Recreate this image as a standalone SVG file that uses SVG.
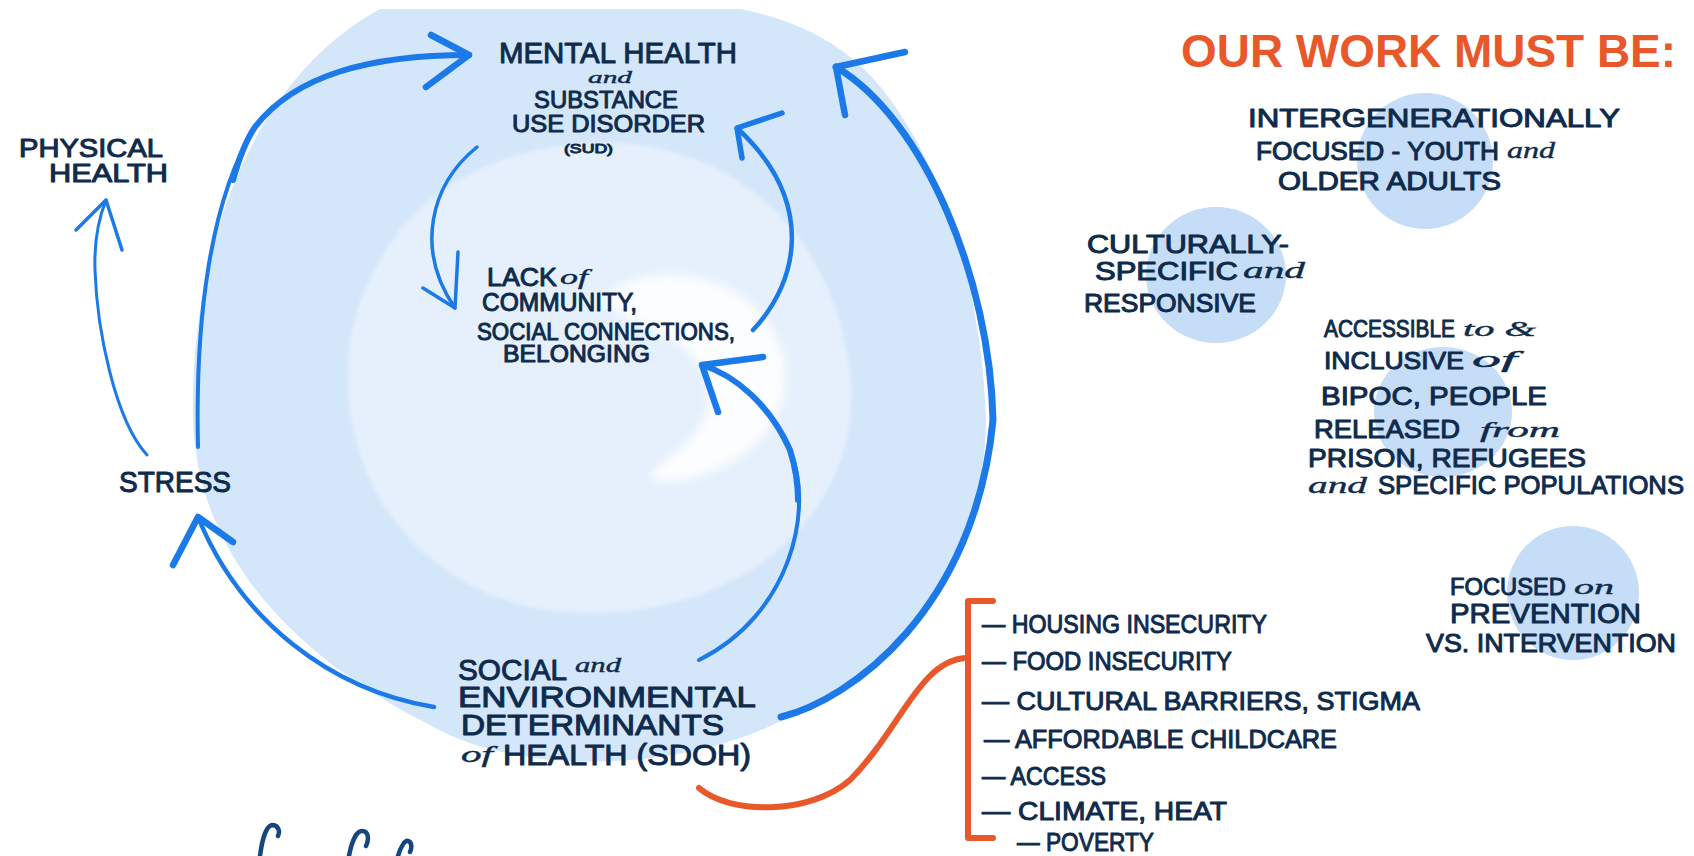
<svg xmlns="http://www.w3.org/2000/svg" width="1694" height="856" viewBox="0 0 1694 856">
<defs>
<style>
.t{font-family:"Liberation Sans","Noto Sans",sans-serif;fill:#0f2b4c;stroke:#0f2b4c;stroke-width:1;stroke-linejoin:round}
.s{font-family:"Liberation Serif","DejaVu Serif",serif;font-style:italic;fill:#0f2b4c;stroke:#0f2b4c;stroke-width:0.4}
.h{font-family:"Liberation Sans","Noto Sans",sans-serif;font-weight:bold;fill:#e8582a}
.blue{fill:none;stroke:#1b7ae8;stroke-linecap:round;stroke-linejoin:round}
.org{fill:none;stroke:#e8582a;stroke-width:6;stroke-linecap:round;stroke-linejoin:round}
.dot{fill:#c6ddf7}
</style>
<filter id="blur" x="-20%" y="-20%" width="140%" height="140%"><feGaussianBlur stdDeviation="4"/></filter>
<filter id="blur2" x="-10%" y="-10%" width="120%" height="120%"><feGaussianBlur stdDeviation="2"/></filter>
</defs>
<rect width="1694" height="856" fill="#ffffff"/>

<g id="background">
<path d="M 380 9 L 740 9 C 790 18 835 40 865 70 C 935 140 982 280 986 420 C 984 560 905 680 790 716 C 690 772 520 778 430 725 C 300 660 198 560 193 420 C 190 250 250 80 380 9 Z" fill="#d4e6fa"/>
<path d="M 600 143 C 720 140 830 220 850 370 C 865 500 760 612 590 613 C 470 614 390 540 362 460 C 335 380 345 300 400 230 C 450 170 520 145 600 143 Z" fill="#e5f0fc" filter="url(#blur2)"/>
<path d="M 600 300 C 640 260 728 266 768 322 C 808 384 778 448 706 474 C 664 488 638 482 660 464 C 712 430 722 390 692 356 C 662 326 622 322 600 300 Z" fill="#fbfdff" filter="url(#blur)"/>
</g>

<g id="connectors">
<path class="blue" stroke-width="4" d="M 198 447 C 195 320 210 200 255 127 C 295 75 370 55 469 55"/>
<path class="blue" stroke-width="6" d="M 233 180 C 240 155 246 140 255 127 C 295 75 370 55 469 55"/>
<path class="blue" stroke-width="6.5" d="M 431 35 L 469 55 L 426 87"/>
<path class="blue" stroke-width="3" d="M 147 455 C 115 420 97 330 95 270 C 94 240 100 215 106 200"/>
<path class="blue" stroke-width="3.5" d="M 76 230 L 106 200 L 122 250"/>
<path class="blue" stroke-width="4.5" d="M 434 707 C 330 690 240 620 198 517"/>
<path class="blue" stroke-width="6.5" d="M 173 565 L 198 517 L 233 542"/>
<path class="blue" stroke-width="7" d="M 781 717 C 850 700 975 610 993 420 C 990 280 925 120 836 67"/>
<path class="blue" stroke-width="6.5" d="M 845 115 L 836 67 L 905 52"/>
<path class="blue" stroke-width="3.5" d="M 477 147 C 430 185 415 250 455 308"/>
<path class="blue" stroke-width="3.5" d="M 458 252 L 455 308 L 423 288"/>
<path class="blue" stroke-width="4.5" d="M 753 330 C 800 280 815 200 737 128"/>
<path class="blue" stroke-width="5.5" d="M 782 113 L 737 128 L 742 158"/>
<path class="blue" stroke-width="4" d="M 699 660 C 790 615 815 510 790 450 C 770 405 735 375 702 365"/>
<path class="blue" stroke-width="6" d="M 798 500 C 798 484 795 466 790 450 C 770 405 735 375 702 365"/>
<path class="blue" stroke-width="6.5" d="M 763 357 L 702 365 L 718 412"/>
<path class="org" d="M 699 788 C 730 815 810 815 850 780 C 900 730 920 660 966 658"/>
<path class="org" d="M 993 601 L 968 601 L 968 838 L 993 838"/>
</g>

<g id="node-physical-health">
<text class="t" x="19" y="157" font-size="25" textLength="144" lengthAdjust="spacingAndGlyphs">PHYSICAL</text>
<text class="t" x="49" y="182" font-size="25" textLength="119" lengthAdjust="spacingAndGlyphs">HEALTH</text>
</g>

<g id="node-mental-health">
<text class="t" x="499" y="63" font-size="30" textLength="238" lengthAdjust="spacingAndGlyphs">MENTAL HEALTH</text>
<text class="s" x="588" y="83" font-size="17" textLength="44" lengthAdjust="spacingAndGlyphs">and</text>
<text class="t" x="534" y="108" font-size="24" textLength="144" lengthAdjust="spacingAndGlyphs">SUBSTANCE</text>
<text class="t" x="512" y="132" font-size="24" textLength="193" lengthAdjust="spacingAndGlyphs">USE DISORDER</text>
<text class="t" x="564" y="153" font-size="13" stroke-width="0.2" textLength="49" lengthAdjust="spacingAndGlyphs">(SUD)</text>
</g>

<g id="node-lack-community">
<text class="t" x="487" y="286" font-size="25" textLength="70" lengthAdjust="spacingAndGlyphs">LACK</text>
<text class="s" x="560" y="284" font-size="22" textLength="28" lengthAdjust="spacingAndGlyphs">of</text>
<text class="t" x="482" y="311" font-size="25" textLength="155" lengthAdjust="spacingAndGlyphs">COMMUNITY,</text>
<text class="t" x="477" y="340" font-size="23" textLength="258" lengthAdjust="spacingAndGlyphs">SOCIAL CONNECTIONS,</text>
<text class="t" x="503" y="362" font-size="23" textLength="147" lengthAdjust="spacingAndGlyphs">BELONGING</text>
</g>

<g id="node-stress">
<text class="t" x="119" y="492" font-size="29" textLength="112" lengthAdjust="spacingAndGlyphs">STRESS</text>
</g>

<g id="node-sdoh">
<text class="t" x="458" y="680" font-size="30" textLength="109" lengthAdjust="spacingAndGlyphs">SOCIAL</text>
<text class="s" x="575" y="672" font-size="21" textLength="46" lengthAdjust="spacingAndGlyphs">and</text>
<text class="t" x="458" y="707" font-size="29" textLength="298" lengthAdjust="spacingAndGlyphs">ENVIRONMENTAL</text>
<text class="t" x="461" y="735" font-size="29" textLength="263" lengthAdjust="spacingAndGlyphs">DETERMINANTS</text>
<text class="s" x="461" y="762" font-size="24" textLength="32" lengthAdjust="spacingAndGlyphs">of</text>
<text class="t" x="503" y="765" font-size="29" textLength="248" lengthAdjust="spacingAndGlyphs">HEALTH (SDOH)</text>
</g>

<g id="node-sdoh-list">
<text class="t" x="982" y="633" font-size="26" textLength="285" lengthAdjust="spacingAndGlyphs">— HOUSING INSECURITY</text>
<text class="t" x="982" y="670" font-size="26" textLength="250" lengthAdjust="spacingAndGlyphs">— FOOD INSECURITY</text>
<text class="t" x="982" y="710" font-size="26" textLength="438" lengthAdjust="spacingAndGlyphs">— CULTURAL BARRIERS, STIGMA</text>
<text class="t" x="984" y="748" font-size="26" textLength="353" lengthAdjust="spacingAndGlyphs">— AFFORDABLE CHILDCARE</text>
<text class="t" x="982" y="785" font-size="26" textLength="124" lengthAdjust="spacingAndGlyphs">— ACCESS</text>
<text class="t" x="982" y="820" font-size="26" textLength="245" lengthAdjust="spacingAndGlyphs">— CLIMATE, HEAT</text>
<text class="t" x="1017" y="851" font-size="26" textLength="137" lengthAdjust="spacingAndGlyphs">— POVERTY</text>
</g>

<g id="node-heading">
<text class="h" x="1181" y="67" font-size="46" textLength="495" lengthAdjust="spacingAndGlyphs">OUR WORK MUST BE:</text>
</g>

<g id="node-intergenerational">
<circle class="dot" cx="1425" cy="161" r="68"/>
<text class="t" x="1248" y="127" font-size="25" textLength="372" lengthAdjust="spacingAndGlyphs">INTERGENERATIONALLY</text>
<text class="t" x="1256" y="160" font-size="25" textLength="243" lengthAdjust="spacingAndGlyphs">FOCUSED - YOUTH</text>
<text class="s" x="1507" y="158" font-size="24" textLength="48" lengthAdjust="spacingAndGlyphs">and</text>
<text class="t" x="1278" y="190" font-size="25" textLength="223" lengthAdjust="spacingAndGlyphs">OLDER ADULTS</text>
</g>

<g id="node-cultural">
<ellipse class="dot" cx="1216" cy="275" rx="70" ry="68"/>
<text class="t" x="1087" y="253" font-size="25" textLength="202" lengthAdjust="spacingAndGlyphs">CULTURALLY-</text>
<text class="t" x="1095" y="280" font-size="25" textLength="143" lengthAdjust="spacingAndGlyphs">SPECIFIC</text>
<text class="s" x="1243" y="278" font-size="24" textLength="62" lengthAdjust="spacingAndGlyphs">and</text>
<text class="t" x="1084" y="312" font-size="25" textLength="172" lengthAdjust="spacingAndGlyphs">RESPONSIVE</text>
</g>

<g id="node-accessible">
<ellipse class="dot" cx="1443" cy="412" rx="69" ry="65"/>
<text class="t" x="1324" y="337" font-size="24" textLength="131" lengthAdjust="spacingAndGlyphs">ACCESSIBLE</text>
<text class="s" x="1463" y="336" font-size="21" textLength="73" lengthAdjust="spacingAndGlyphs">to &amp;</text>
<text class="t" x="1324" y="369" font-size="24" textLength="140" lengthAdjust="spacingAndGlyphs">INCLUSIVE</text>
<text class="s" x="1472" y="367" font-size="23" textLength="45" lengthAdjust="spacingAndGlyphs">of</text>
<text class="t" x="1321" y="405" font-size="26" textLength="226" lengthAdjust="spacingAndGlyphs">BIPOC, PEOPLE</text>
<text class="t" x="1314" y="438" font-size="25" textLength="146" lengthAdjust="spacingAndGlyphs">RELEASED</text>
<text class="s" x="1480" y="437" font-size="22" textLength="80" lengthAdjust="spacingAndGlyphs">from</text>
<text class="t" x="1308" y="467" font-size="26" textLength="278" lengthAdjust="spacingAndGlyphs">PRISON, REFUGEES</text>
<text class="s" x="1308" y="493" font-size="24" textLength="59" lengthAdjust="spacingAndGlyphs">and</text>
<text class="t" x="1378" y="494" font-size="26" textLength="306" lengthAdjust="spacingAndGlyphs">SPECIFIC POPULATIONS</text>
</g>

<g id="node-prevention">
<ellipse class="dot" cx="1573" cy="593" rx="66" ry="67"/>
<text class="t" x="1450" y="595" font-size="24" textLength="116" lengthAdjust="spacingAndGlyphs">FOCUSED</text>
<text class="s" x="1574" y="594" font-size="22" textLength="40" lengthAdjust="spacingAndGlyphs">on</text>
<text class="t" x="1450" y="623" font-size="28" textLength="191" lengthAdjust="spacingAndGlyphs">PREVENTION</text>
<text class="t" x="1426" y="652" font-size="25" textLength="250" lengthAdjust="spacingAndGlyphs">VS. INTERVENTION</text>
</g>

<g id="cutoff-script" fill="none" stroke="#14477f" stroke-width="4.5" stroke-linecap="round">
<path d="M 260 856 C 262 840 266 826 272 825 C 279 825 280 832 278 836"/>
<path d="M 349 856 C 352 840 357 831 362 831 C 369 831 369 840 366 846"/>
<path d="M 398 856 C 401 846 405 840 408 841 C 412 842 412 848 410 852"/>
</g>
</svg>
